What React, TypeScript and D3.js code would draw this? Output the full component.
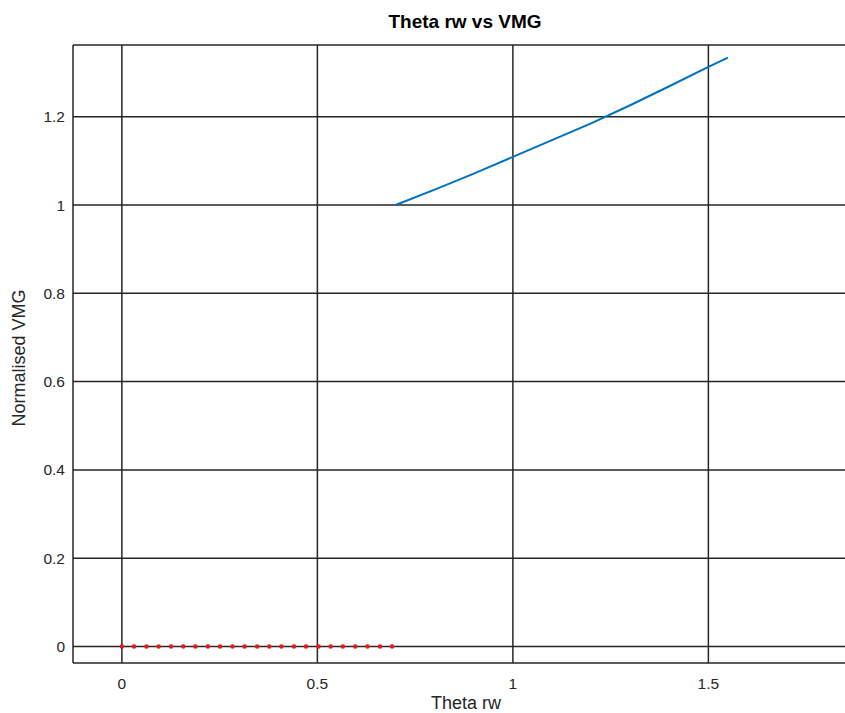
import React from "react";
import * as d3 from "d3";

const xTicks = [0, 0.5, 1, 1.5];
const yTicks = [0, 0.2, 0.4, 0.6, 0.8, 1, 1.2];

const redX = [0, 0.031, 0.063, 0.094, 0.126, 0.157, 0.188, 0.22, 0.251, 0.283, 0.314, 0.346, 0.377, 0.408, 0.44, 0.471, 0.503, 0.534, 0.565, 0.597, 0.628, 0.66, 0.691];
const redY = redX.map(() => 0);

const blueX = [0.7, 0.8, 0.9, 1.0, 1.1, 1.2, 1.3, 1.4, 1.5, 1.55];
const blueY = [1.0, 1.035, 1.071, 1.109, 1.147, 1.185, 1.226, 1.269, 1.313, 1.334];

export default function App() {
  const W = 845, H = 713;
  const left = 73, right = 855, top = 45, bottom = 663;
  const x = d3.scaleLinear().domain([-0.125, 1.875]).range([left, right]);
  const y = d3.scaleLinear().domain([-0.0375, 1.3625]).range([bottom, top]);
  const line = d3.line<number>().x((_, i) => x(blueX[i])).y((d) => y(d));
  const font = "'Liberation Sans', Arial, sans-serif";
  const gc = "#262626";
  return (
    <svg width={W} height={H} style={{ position: "absolute", left: 0, top: 0, background: "#fff" }}>
      <rect x={0} y={0} width={W} height={H} fill="#fff" />
      {xTicks.map((t) => (
        <line key={"gx" + t} x1={x(t)} x2={x(t)} y1={top} y2={bottom} stroke={gc} strokeWidth={1.5} />
      ))}
      {yTicks.map((t) => (
        <line key={"gy" + t} x1={left} x2={right} y1={y(t)} y2={y(t)} stroke={gc} strokeWidth={1.5} />
      ))}
      <line x1={left} x2={left} y1={top} y2={bottom} stroke={gc} strokeWidth={1.5} />
      <line x1={left} x2={right} y1={top} y2={top} stroke={gc} strokeWidth={1.5} />
      <line x1={left} x2={right} y1={bottom} y2={bottom} stroke={gc} strokeWidth={1.5} />
      {xTicks.map((t) => (
        <text key={"tx" + t} x={x(t)} y={689} textAnchor="middle" fontFamily={font} fontSize={15.5} fill={gc}>
          {String(t)}
        </text>
      ))}
      {yTicks.map((t) => (
        <text key={"ty" + t} x={65} y={y(t) + 5.5} textAnchor="end" fontFamily={font} fontSize={15.5} fill={gc}>
          {String(t)}
        </text>
      ))}
      <path d={line(blueY) || ""} fill="none" stroke="#0072BD" strokeWidth={2} />
      {redX.map((v, i) => (
        <circle key={"r" + i} cx={x(v)} cy={y(redY[i])} r={2.3} fill="#e41a1c" />
      ))}
      <text x={465} y={28} textAnchor="middle" fontFamily={font} fontSize={19} fontWeight="bold" fill="#000">
        Theta rw vs VMG
      </text>
      <text x={466} y={709} textAnchor="middle" fontFamily={font} fontSize={18} fill={gc}>
        Theta rw
      </text>
      <text transform={`translate(25, ${(top + bottom) / 2 + 4}) rotate(-90)`} textAnchor="middle" fontFamily={font} fontSize={18} fill={gc}>
        Normalised VMG
      </text>
    </svg>
  );
}
